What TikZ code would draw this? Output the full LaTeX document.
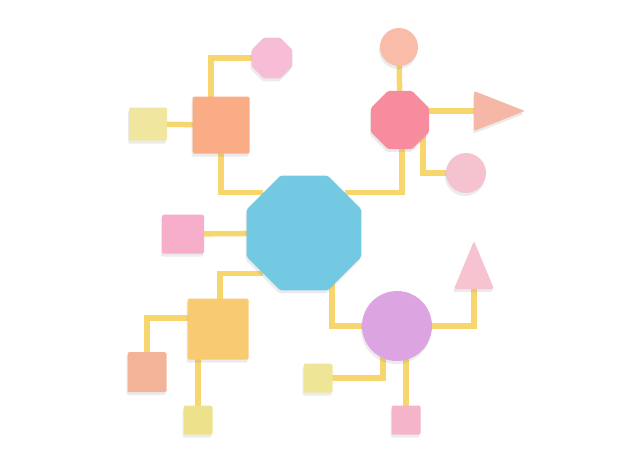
\documentclass[tikz,border=0pt]{standalone}
\usepackage{tikz}
\usetikzlibrary{positioning}
\usetikzlibrary{shapes.geometric}
\usetikzlibrary{shadows}
\usetikzlibrary{backgrounds}
\usepackage{xcolor}

\definecolor{cyanp}{HTML}{72C9E1}
\definecolor{orangep}{HTML}{F9AC86}
\definecolor{pinkl}{HTML}{F7BDD6}
\definecolor{yellowl}{HTML}{F0E6A0}
\definecolor{peachp}{HTML}{F8BCA8}
\definecolor{coralp}{HTML}{F68C9E}
\definecolor{apricot}{HTML}{F6B8A6}
\definecolor{rosep}{HTML}{F5C3D0}
\definecolor{pinkp}{HTML}{F6AECB}
\definecolor{goldp}{HTML}{F8CB72}
\definecolor{salmonp}{HTML}{F3B398}
\definecolor{yellowp}{HTML}{EDE18C}
\definecolor{lavender}{HTML}{DCA5E1}
\definecolor{pinkt}{HTML}{F7C3D1}
\definecolor{yellowq}{HTML}{EEE596}
\definecolor{pinkq}{HTML}{F5B4CA}
\definecolor{strip}{HTML}{F7D66E}

\tikzset{
  paper/.style={inner sep=0pt, outer sep=0pt, rounded corners=1.5pt,
    drop shadow={shadow xshift=-1pt, shadow yshift=-3pt, opacity=0.16}},
  sq/.style={paper, rectangle, fill=#1},
  oct/.style={paper, regular polygon, regular polygon sides=8, fill=#1},
  disc/.style={paper, circle, fill=#1},
  tri/.style={paper, isosceles triangle, isosceles triangle stretches, fill=#1},
  link/.style={strip, line width=5.5pt}
}

\begin{document}
\begin{tikzpicture}[x=1pt, y=-1pt]
\useasboundingbox (0,0) rectangle (626,463);

% nodes
\node[oct=cyanp, minimum size=124pt] (hub) at (304,233) {};

\node[sq=orangep, minimum size=57pt] (orsq) at (221,125) {};
\node[oct=pinkl, minimum size=44pt] (pkoct) at (272,58) {};
\node[sq=yellowl, minimum width=38pt, minimum height=33pt] (ylsq) at (148,124) {};

\node[oct=coralp, minimum size=63pt] (croct) at (400,120) {};
\node[disc=peachp, minimum size=38pt] (pccirc) at (399,47) {};
\node[tri=apricot, minimum width=40pt, minimum height=51pt, anchor=lower side] (rtri) at (474,111) {};
\node[disc=rosep, minimum size=40pt] (rscirc) at (466,173) {};

\node[sq=pinkp, minimum width=42pt, minimum height=39pt] (pksq) at (183,234) {};

\node[sq=goldp, minimum size=61pt] (gdsq) at (218,329) {};
\node[sq=salmonp, minimum width=39pt, minimum height=40pt] (smsq) at (147,372) {};
\node[sq=yellowp, minimum size=29pt] (ybsq) at (198,420) {};

\node[disc=lavender, minimum size=70pt] (lvcirc) at (397,326) {};
\node[tri=pinkt, shape border rotate=90, minimum width=40pt, minimum height=48pt, anchor=lower side] (utri) at (474,289) {};
\node[sq=yellowq, minimum size=29pt] (yrsq) at (318,378) {};
\node[sq=pinkq, minimum size=29pt] (pbsq) at (406,420) {};

% links
\begin{scope}[on background layer]
\draw[link] (pkoct.center) -| ([xshift=-10pt]orsq.center);
\draw[link] (ylsq.center) -- (orsq.center);
\draw[link] (orsq.center) |- (hub.north west);
\draw[link] (hub.north east) -| ([xshift=2pt]croct.center);
\draw[link] (pccirc.center) -- (croct.center);
\draw[link] (croct.center |- rtri.lower side) -- (rtri.center);
\draw[link] ([xshift=23pt]croct.center) |- (rscirc.center);
\draw[link] (pksq.center) -- (hub.center);
\draw[link] (hub.south west) -| ([xshift=2pt]gdsq.center);
\draw[link] ([yshift=11pt]gdsq.center) -| (smsq.center);
\draw[link] (ybsq.center) -- (ybsq.center |- gdsq.center);
\draw[link] ([xshift=28pt]hub.center) |- (lvcirc.center);
\draw[link] (lvcirc.center) -| (utri.center);
\draw[link] (yrsq.center) -| ([xshift=-14pt]lvcirc.center);
\draw[link] (pbsq.center) -- (pbsq.center |- lvcirc.center);
\end{scope}

\end{tikzpicture}
\end{document}
